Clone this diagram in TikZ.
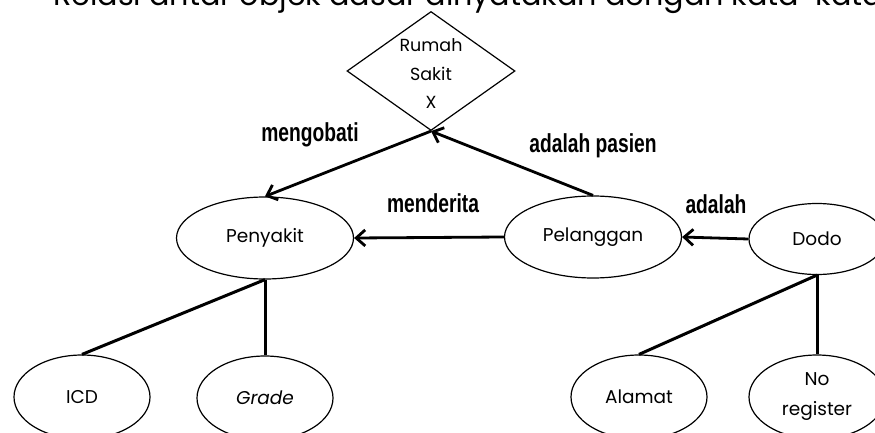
\documentclass[tikz,border=0pt]{standalone}
\usepackage{fontspec}
\setmainfont{Poppins}
\newfontfamily\condfont[FakeStretch=0.74]{Liberation Sans}
\usetikzlibrary{shapes.geometric,arrows.meta}
\begin{document}
\begin{tikzpicture}[x=1pt,y=-1pt,
  ent/.style={ellipse,draw,line width=1.2pt,inner sep=0pt,minimum width=136pt,minimum height=84pt,font=\fontsize{18.5}{22}\selectfont,align=center},
  big/.style={minimum width=177pt,minimum height=82pt},
  con/.style={line width=3pt},
  arr/.style={line width=2.8pt,-{Straight Barb[length=9pt,width=16pt]}},
  lab/.style={font=\condfont\bfseries\fontsize{26}{30}\selectfont,anchor=base,inner sep=0pt}]
\useasboundingbox (0,0) rectangle (875,433);
\clip (0,0) rectangle (875,433);
\node[anchor=base west,inner sep=0pt] (title) at (53,6) {\resizebox{830pt}{!}{Relasi antar objek dasar dinyatakan dengan kata-kata}};
\node[diamond,draw,line width=1.2pt,minimum width=168pt,minimum height=119pt,inner sep=0pt] (rs) at (431,71)
  {\smash{\raisebox{-8pt}{\fontsize{17.5}{28.5}\selectfont\begin{tabular}{@{}c@{}}Rumah\\Sakit\\X\end{tabular}}}};
\node[ent,big] (pen) at (265,238) {Penyakit};
\node[ent,big] (pel) at (593,237) {Pelanggan};
\node[ent,minimum height=71pt] (dodo) at (817,239) {Dodo};
\node[ent] (icd) at (82,397) {ICD};
\node[ent] (grade) at (265,398) {\itshape Grade};
\node[ent] (alamat) at (639,397) {Alamat};
\node[ent,font=\fontsize{18.5}{30}\selectfont] (noreg) at (817,397) {No\\register};
\draw[arr] (rs.south) -- (pen.north);
\draw[arr] (pel.north) -- (rs.south);
\draw[arr] (pel.west) -- (pen.east);
\draw[arr] (dodo.west) -- (pel.east);
\draw[con] (pen.south) -- (icd.north);
\draw[con] (pen.south) -- (grade.north);
\draw[con] (dodo.south) -- (alamat.north);
\draw[con] (dodo.south) -- (noreg.north);
\node[lab] (l1) at (310,142) {mengobati};
\node[lab] (l2) at (593,153) {adalah pasien};
\node[lab] (l3) at (433,212) {menderita};
\node[lab] (l4) at (716,213) {adalah};
\end{tikzpicture}
\end{document}
